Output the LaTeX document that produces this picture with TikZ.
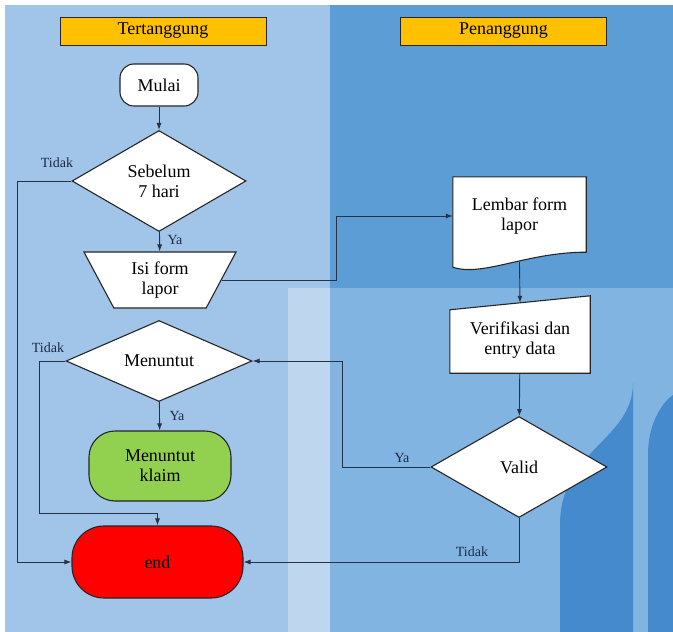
\documentclass[tikz,border=0pt]{standalone}
\usepackage{fontspec}
\setmainfont{Liberation Serif}
\usetikzlibrary{shapes.geometric,arrows.meta}

\definecolor{panelL}{RGB}{160,197,232}
\definecolor{panelR}{RGB}{93,157,214}
\definecolor{panelLow}{RGB}{130,180,225}
\definecolor{panelStrip}{RGB}{190,215,238}
\definecolor{decor}{RGB}{68,138,204}
\definecolor{headfill}{RGB}{255,192,0}
\definecolor{klaimfill}{RGB}{146,208,80}
\definecolor{endfill}{RGB}{255,0,0}
\definecolor{linecol}{RGB}{40,48,68}
\definecolor{labelcol}{RGB}{30,40,70}

\begin{document}
\begin{tikzpicture}[x=1pt,y=-1pt,
	shapebox/.style={draw=black!85, line width=1.1pt, fill=white, align=center,
		font=\fontsize{18}{20}\selectfont},
	head/.style={draw=black!85, line width=0.8pt, fill=headfill, minimum width=206pt,
		minimum height=28pt, font=\fontsize{18}{20}\selectfont},
	term/.style={shapebox, rounded corners=#1},
	decision/.style={shapebox, diamond, aspect=1.7, inner sep=0pt},
	flow/.style={draw=linecol, line width=0.9pt, -{Latex[length=7pt,width=5pt]}},
	lbl/.style={text=labelcol, font=\fontsize{14}{16}\selectfont}]
	% background
	\useasboundingbox (0,0) rectangle (673,632);
	\fill[white] (0,0) rectangle (673,632);
	\fill[panelL] (5,5) rectangle (330,632);
	\fill[panelR] (330,5) rectangle (673,288);
	\fill[panelLow] (330,288) rectangle (673,632);
	\fill[panelStrip] (288,288) rectangle (330,632);
	\fill[decor] (560,632) -- (560,525) .. controls (560,450) and (633,440) .. (633,383) -- (633,632) -- cycle;
	\fill[decor] (648,632) -- (648,455) .. controls (648,420) and (665,400) .. (673,395) -- (673,632) -- cycle;

	% lanes
	\node[head] (tertanggung) at (163,31) {Tertanggung};
	\node[head] (penanggung) at (503.5,31) {Penanggung};

	% tertanggung
	\node[term=14pt, minimum width=78pt, minimum height=42pt] (mulai) at (159,85) {Mulai};
	\node[decision, minimum width=174pt, minimum height=101pt] (sebelum) at (159,181) {Sebelum\\7 hari};
	\node[shapebox, trapezium, shape border rotate=180, trapezium left angle=63,
		trapezium right angle=63, trapezium stretches=true, inner sep=0pt,
		minimum width=153pt, minimum height=56pt] (isi) at (160,280) {Isi form\\lapor};
	\node[decision, aspect=2.3, minimum width=186pt, minimum height=81pt] (menuntut) at (159,361) {Menuntut};
	\node[term=26pt, fill=klaimfill, minimum width=142pt, minimum height=70pt] (klaim) at (160,466) {Menuntut\\klaim};
	\node[term=32pt, fill=endfill, minimum width=171pt, minimum height=72pt] (end) at (157.5,562) {end};

	% penanggung
	\node[minimum width=133pt, minimum height=78pt] (lembar) at (519.5,216) {};
	\draw[draw=black!85, line width=1.1pt, fill=white] (lembar.north west) -- (lembar.north east)
		-- ([yshift=3pt]lembar.south east) .. controls +(-60,0) and +(30,10) .. ([yshift=-12pt]lembar.south west)
		-- cycle;
	\node[align=center, font=\fontsize{18}{20}\selectfont] (lembartext) at (lembar.center) {Lembar form\\lapor};
	\node[minimum width=140pt, minimum height=66pt] (verif) at (520,340) {};
	\draw[draw=black!85, line width=1.1pt, fill=white] ([yshift=-3pt]verif.north west)
		-- ([yshift=11pt]verif.north east) -- (verif.south east) -- (verif.south west) -- cycle;
	\node[align=center, font=\fontsize{18}{20}\selectfont] (veriftext) at (verif.center) {Verifikasi dan\\entry data};
	\node[decision, minimum width=176pt, minimum height=101pt] (valid) at (519,467) {Valid};

	% connectors
	\draw[flow] (mulai) -- (sebelum);
	\draw[flow] (sebelum) -- (isi);
	\draw[flow] (sebelum.west) -- ++(-54,0) |- (end.west);
	\draw[flow] (isi.east) -- ++(115,0) |- (lembar.west);
	\draw[flow] ([yshift=-7pt]lembar.south) -- ([yshift=4pt]verif.north);
	\draw[flow] (verif) -- (valid);
	\draw[flow] (valid.west) -- ++(-88,0) |- (menuntut.east);
	\draw[flow] (valid.south) |- (end.east);
	\draw[flow] (menuntut) -- (klaim);
	\draw[flow] (menuntut.west) -- ++(-26,0) -- ++(0,152) -| (end.north);

	% labels
	\node[lbl] (l1) at (57,163) {Tidak};
	\node[lbl] (l2) at (175,240) {Ya};
	\node[lbl] (l3) at (48,348) {Tidak};
	\node[lbl] (l4) at (177,416) {Ya};
	\node[lbl] (l5) at (402,458) {Ya};
	\node[lbl] (l6) at (472,552) {Tidak};
\end{tikzpicture}
\end{document}
